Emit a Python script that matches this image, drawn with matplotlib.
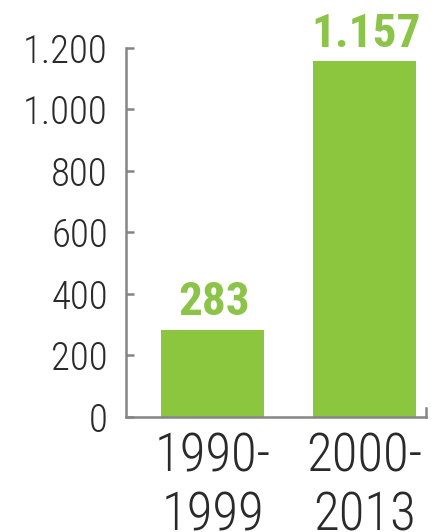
import matplotlib.pyplot as plt

# data
periods = ['1990-\n1999', '2000-\n2013']
values = [283, 1157]
value_labels = ['283', '1.157']
yticks = [0, 200, 400, 600, 800, 1000, 1200]
ytick_labels = ['0', '200', '400', '600', '800', '1.000', '1.200']

green = '#8cc63e'
label_green = '#8cc449'
axis_gray = '#858585'
text_gray = '#2a2a2a'

plt.rcParams['font.family'] = ['Roboto Condensed', 'DejaVu Sans']

fig = plt.figure(figsize=(4.35, 5.32), dpi=100)
ax = fig.add_axes([0.2897, 0.2162, 0.6893, 0.6936])

x = range(len(values))
ax.bar(x, values, width=0.68, color=green)

# value labels above bars
for xi, v, lab in zip(x, values, value_labels):
    ax.annotate(lab, (xi, v), xytext=(1, 4), textcoords='offset points',
                ha='center', va='bottom', fontsize=34, fontweight='semibold',
                color=label_green)

ax.set_xlim(-0.569, 1.405)
ax.set_ylim(0, 1200)

ax.set_yticks(yticks)
ax.set_yticklabels(ytick_labels, fontweight='light')
ax.set_xticks(list(x))
ax.set_xticklabels(periods, linespacing=1.2, fontweight='light')

ax.spines['top'].set_visible(False)
for side in ['left', 'bottom', 'right']:
    ax.spines[side].set_color(axis_gray)
    ax.spines[side].set_linewidth(1.8)
ax.spines['right'].set_bounds(0, 30)

ax.tick_params(axis='y', direction='in', length=6, width=1.8, color=axis_gray,
               labelsize=28, labelcolor=text_gray, pad=13)
ax.tick_params(axis='x', length=0, labelsize=38, labelcolor=text_gray, pad=10)

fig.savefig('out.png', dpi=100)
